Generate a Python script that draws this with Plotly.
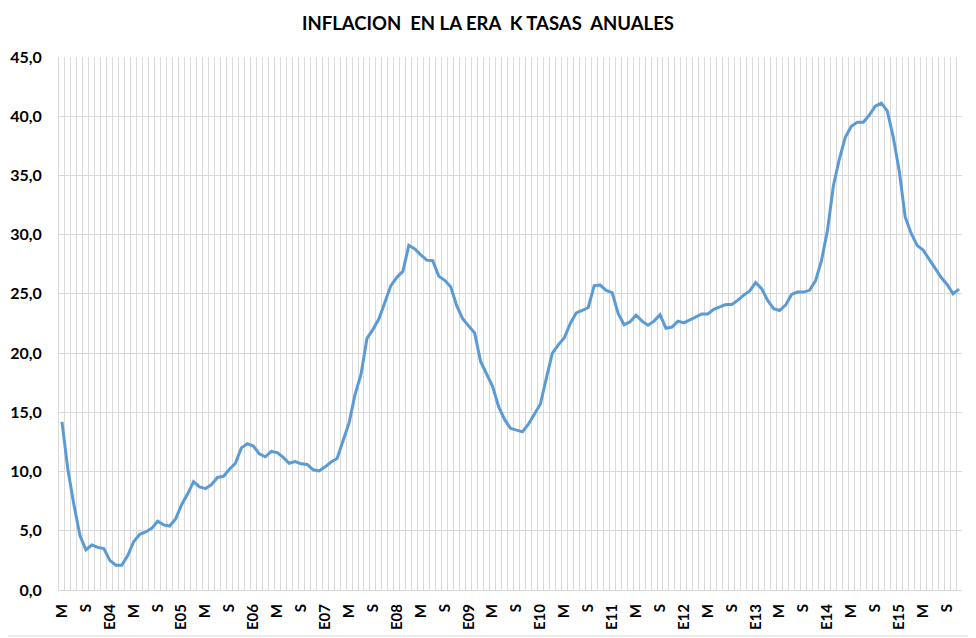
import plotly.graph_objects as go

# monthly annual inflation, May 2003 .. Nov 2015
inflacion = [
    14.2, 10.1, 7.2, 4.6, 3.4, 3.8, 3.6, 3.5,
    2.5, 2.1, 2.1, 2.9, 4.1, 4.7, 4.9, 5.2, 5.8, 5.5, 5.4, 6.0,
    7.2, 8.1, 9.15, 8.7, 8.55, 8.9, 9.5, 9.6, 10.2, 10.7, 12.0, 12.35,
    12.15, 11.5, 11.25, 11.7, 11.6, 11.2, 10.7, 10.85, 10.65, 10.6, 10.15, 10.05,
    10.4, 10.8, 11.1, 12.6, 14.1, 16.5, 18.2, 21.25, 22.0, 22.9, 24.3, 25.7,
    26.4, 26.9, 29.1, 28.8, 28.3, 27.85, 27.8, 26.5, 26.15, 25.6, 24.0, 22.9,
    22.3, 21.7, 19.3, 18.2, 17.2, 15.5, 14.4, 13.65, 13.5, 13.35, 14.0, 14.8,
    15.7, 17.9, 20.0, 20.7, 21.3, 22.5, 23.4, 23.6, 23.85, 25.7, 25.75, 25.3,
    25.1, 23.35, 22.4, 22.65, 23.2, 22.7, 22.35, 22.7, 23.25, 22.1, 22.2, 22.7,
    22.55, 22.8, 23.05, 23.3, 23.3, 23.7, 23.9, 24.1, 24.1, 24.45, 24.9, 25.25,
    25.95, 25.45, 24.45, 23.75, 23.6, 24.05, 24.95, 25.15, 25.15, 25.3, 26.1, 27.8,
    30.35, 34.15, 36.4, 38.25, 39.15, 39.5, 39.5, 40.1, 40.85, 41.1, 40.45, 38.25,
    35.4, 31.5, 30.1, 29.1, 28.7, 27.9, 27.1, 26.4, 25.8, 25.0, 25.4,
]

meses = list(range(len(inflacion)))

# one label every four months: M (mayo), S (septiembre), Exx (enero)
tick_pos = list(range(0, len(inflacion), 4))
tick_txt = []
for i in tick_pos:
    mes = (4 + i) % 12
    if mes == 0:
        tick_txt.append("E%02d" % ((2003 + (4 + i) // 12) % 100))
    elif mes == 4:
        tick_txt.append("M")
    else:
        tick_txt.append("S")

y_ticks = [0, 5, 10, 15, 20, 25, 30, 35, 40, 45]

grid = "#D9D9D9"
fuente = "Lato"

# page body adds an 8px margin, so the figure is 8px smaller on each axis
W, H = 968, 630
ML, MR, MT, MB = 51, 14, 49, 48
pw, ph = W - ML - MR, H - MT - MB

fig = go.Figure(go.Scatter(
    x=meses, y=inflacion, mode="lines",
    line=dict(color="#5B9BD5", width=3),
    hoverinfo="skip",
))

fig.update_layout(
    width=W, height=H,
    margin=dict(l=ML, r=MR, t=MT, b=MB, autoexpand=False),
    paper_bgcolor="white", plot_bgcolor="white",
    separators=",.",
    showlegend=False,
    title=dict(text="INFLACION  EN LA ERA  K TASAS  ANUALES",
               x=(488 - 8 - ML) / pw, xref="paper", xanchor="center",
               y=1 - 16 / H, yanchor="middle",
               font=dict(family=fuente, size=18.5, weight="bold", color="black")),
    font=dict(family=fuente, color="black"),
    shapes=[dict(type="rect", xref="paper", yref="paper",
                 x0=-(ML + 8) / pw, x1=1 + 12 / pw,
                 y0=-(MB - 2) / ph, y1=1 + (MT + 8) / ph,
                 line=dict(color=grid, width=1))],
)

fig.update_xaxes(
    automargin=False,
    range=[-0.5, len(inflacion) - 0.5],
    tickmode="array", tickvals=tick_pos, ticktext=tick_txt,
    tickangle=-90, tickfont=dict(size=15, family=fuente, weight="bold"),
    showgrid=False, zeroline=False,
    showline=True, linecolor=grid, linewidth=1,
    ticks="", ticklabelstandoff=7,
    minor=dict(tickmode="linear", tick0=-0.5, dtick=1, showgrid=True,
               gridcolor=grid, gridwidth=1, ticks=""),
)

fig.update_yaxes(
    automargin=False,
    range=[0, 45], tickmode="array", tickvals=y_ticks, tickformat=".1f",
    tickfont=dict(size=16, family=fuente, weight="bold"),
    showgrid=True, gridcolor=grid, gridwidth=1, zeroline=False,
    showline=True, linecolor=grid, linewidth=1, ticks="",
    ticklabelstandoff=13,
)

fig.write_html("out.html")
